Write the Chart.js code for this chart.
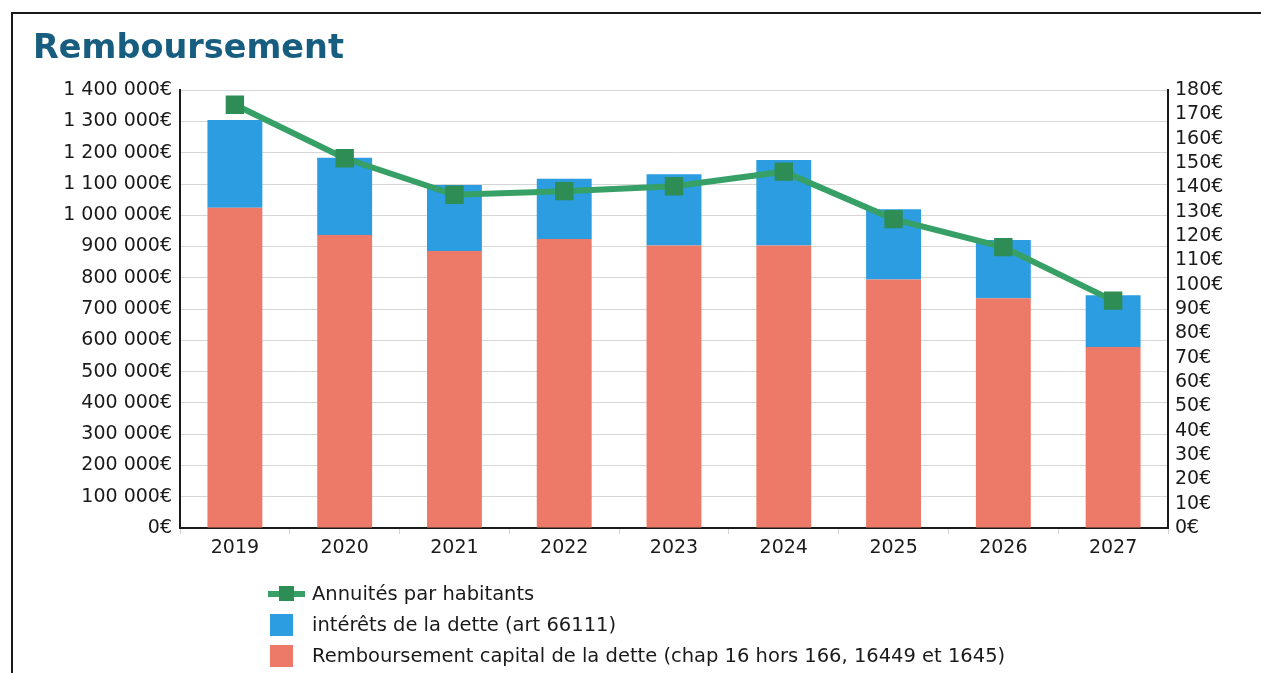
<!DOCTYPE html>
<html lang="fr">
<head>
<meta charset="utf-8">
<title>Remboursement</title>
<script src="https://cdn.jsdelivr.net/npm/chart.js@4/dist/chart.umd.min.js"></script>
<style>
  html, body { margin: 0; padding: 0; background: #fff; }
  body { width: 1261px; height: 673px; position: relative; overflow: hidden; }
  #cadre {
    position: absolute; left: 11px; top: 12px; width: 1300px; height: 700px;
    border-left: 2px solid #1a1a1a; border-top: 2px solid #1a1a1a;
  }
  #zone { position: absolute; left: 0; top: 0; width: 1261px; height: 673px; }
  #legende {
    position: absolute; left: 268px; top: 578px; margin: 0; padding: 0; list-style: none;
    font-family: "DejaVu Sans", sans-serif; font-size: 19.5px; color: #1a1a1a;
  }
  #legende li { display: flex; align-items: center; height: 31px; white-space: nowrap; }
  #legende .symbole { position: relative; flex: none; width: 37px; height: 22px; margin-right: 7px; }
  #legende .boite { position: absolute; left: 2px; top: 0; width: 23px; height: 22px; }
  #legende .trait { position: absolute; left: 0; top: 8px; width: 37px; height: 6px; }
  #legende .carre { position: absolute; left: 11px; top: 3px; width: 15px; height: 15px; }
</style>
</head>
<body>
<div id="cadre"></div>
<div id="zone"><canvas id="graphique" width="1261" height="673"></canvas></div>
<ul id="legende"></ul>
<script>
  // Années et montants (en euros)
  var annees = ["2019", "2020", "2021", "2022", "2023", "2024", "2025", "2026", "2027"];
  var capital = [1024000, 937000, 886000, 924000, 903000, 903000, 795000, 735000, 579000];
  var interets = [281000, 247000, 211000, 193000, 228000, 274000, 224000, 186000, 165000];
  // Annuités par habitant (en euros, axe de droite)
  var annuites = [174, 152, 137, 138.5, 140.5, 146.5, 127, 115.5, 93.5];

  var couleurCapital = "#ed7a68";
  var couleurInterets = "#2b9de0";
  var couleurLigne = "#37a066";
  var couleurCarre = "#2e8c55";
  var police = "'DejaVu Sans', sans-serif";

  // Séparateur de milliers avec espace : 1 400 000€
  function formatEuros(v) {
    return String(v).replace(/\B(?=(\d{3})+(?!\d))/g, " ") + "€";
  }

  var ctx = document.getElementById("graphique").getContext("2d");
  var graphique = new Chart(ctx, {
    type: "bar",
    data: {
      labels: annees,
      datasets: [
        {
          type: "line",
          label: "Annuités par habitants",
          data: annuites,
          yAxisID: "y1",
          order: 0,
          borderColor: couleurLigne,
          backgroundColor: couleurCarre,
          borderWidth: 6,
          pointStyle: "rect",
          pointRadius: 13,
          pointHoverRadius: 13,
          pointBackgroundColor: couleurCarre,
          pointBorderWidth: 0,
          tension: 0,
        },
        {
          label: "Remboursement capital de la dette (chap 16 hors 166, 16449 et 1645)",
          data: capital,
          yAxisID: "y",
          order: 1,
          backgroundColor: couleurCapital,
          barPercentage: 0.5,
          categoryPercentage: 1,
        },
        {
          label: "intérêts de la dette (art 66111)",
          data: interets,
          yAxisID: "y",
          order: 2,
          backgroundColor: couleurInterets,
          barPercentage: 0.5,
          categoryPercentage: 1,
        },
      ],
    },
    options: {
      responsive: false,
      animation: false,
      layout: { padding: { left: 33, right: 0, top: 9, bottom: 115 } },
      plugins: {
        legend: { display: false },
        tooltip: { enabled: false },
        title: {
          display: true,
          text: "Remboursement",
          align: "start",
          color: "#175d7f",
          font: { family: police, size: 33.5, weight: "bold" },
          padding: { top: 20, bottom: 21 },
        },
      },
      scales: {
        x: {
          stacked: true,
          afterFit: function (scale) { scale.height = 30; },
          grid: { drawOnChartArea: false, drawTicks: true, tickLength: 6, color: "#d2d2d2", offset: true },
          border: { display: true, color: "#1a1a1a", width: 2 },
          ticks: { color: "#1a1a1a", padding: 3, font: { family: police, size: 19 } },
        },
        y: {
          stacked: true,
          position: "left",
          min: 0,
          max: 1400000,
          afterFit: function (scale) { scale.width = 147; },
          grid: { color: "#d6d6d6", lineWidth: 1, drawTicks: false },
          border: { display: true, color: "#1a1a1a", width: 2 },
          ticks: {
            stepSize: 100000,
            autoSkip: false,
            padding: 8,
            color: "#1a1a1a",
            font: { family: police, size: 19 },
            callback: function (v) { return formatEuros(v); },
          },
        },
        y1: {
          position: "right",
          min: 0,
          max: 180,
          afterFit: function (scale) { scale.width = 93; },
          grid: { drawOnChartArea: false, drawTicks: false },
          border: { display: true, color: "#1a1a1a", width: 2 },
          ticks: {
            stepSize: 10,
            autoSkip: false,
            padding: 7,
            color: "#1a1a1a",
            font: { family: police, size: 19 },
            callback: function (v) { return v + "€"; },
          },
        },
      },
    },
  });

  // Légende en colonne : la courbe d'abord, puis les barres de haut en bas
  var items = Chart.defaults.plugins.legend.labels.generateLabels(graphique);
  items.sort(function (a, b) {
    var la = graphique.data.datasets[a.datasetIndex].type === "line" ? 0 : 1;
    var lb = graphique.data.datasets[b.datasetIndex].type === "line" ? 0 : 1;
    return la - lb || b.datasetIndex - a.datasetIndex;
  });
  var liste = document.getElementById("legende");
  items.forEach(function (item) {
    var ds = graphique.data.datasets[item.datasetIndex];
    var li = document.createElement("li");
    var sym = document.createElement("span");
    sym.className = "symbole";
    if (ds.type === "line") {
      var trait = document.createElement("span");
      trait.className = "trait";
      trait.style.background = ds.borderColor;
      var carre = document.createElement("span");
      carre.className = "carre";
      carre.style.background = ds.pointBackgroundColor;
      sym.appendChild(trait);
      sym.appendChild(carre);
    } else {
      var boite = document.createElement("span");
      boite.className = "boite";
      boite.style.background = ds.backgroundColor;
      sym.appendChild(boite);
    }
    var txt = document.createElement("span");
    txt.textContent = item.text;
    li.appendChild(sym);
    li.appendChild(txt);
    liste.appendChild(li);
  });
</script>
</body>
</html>
